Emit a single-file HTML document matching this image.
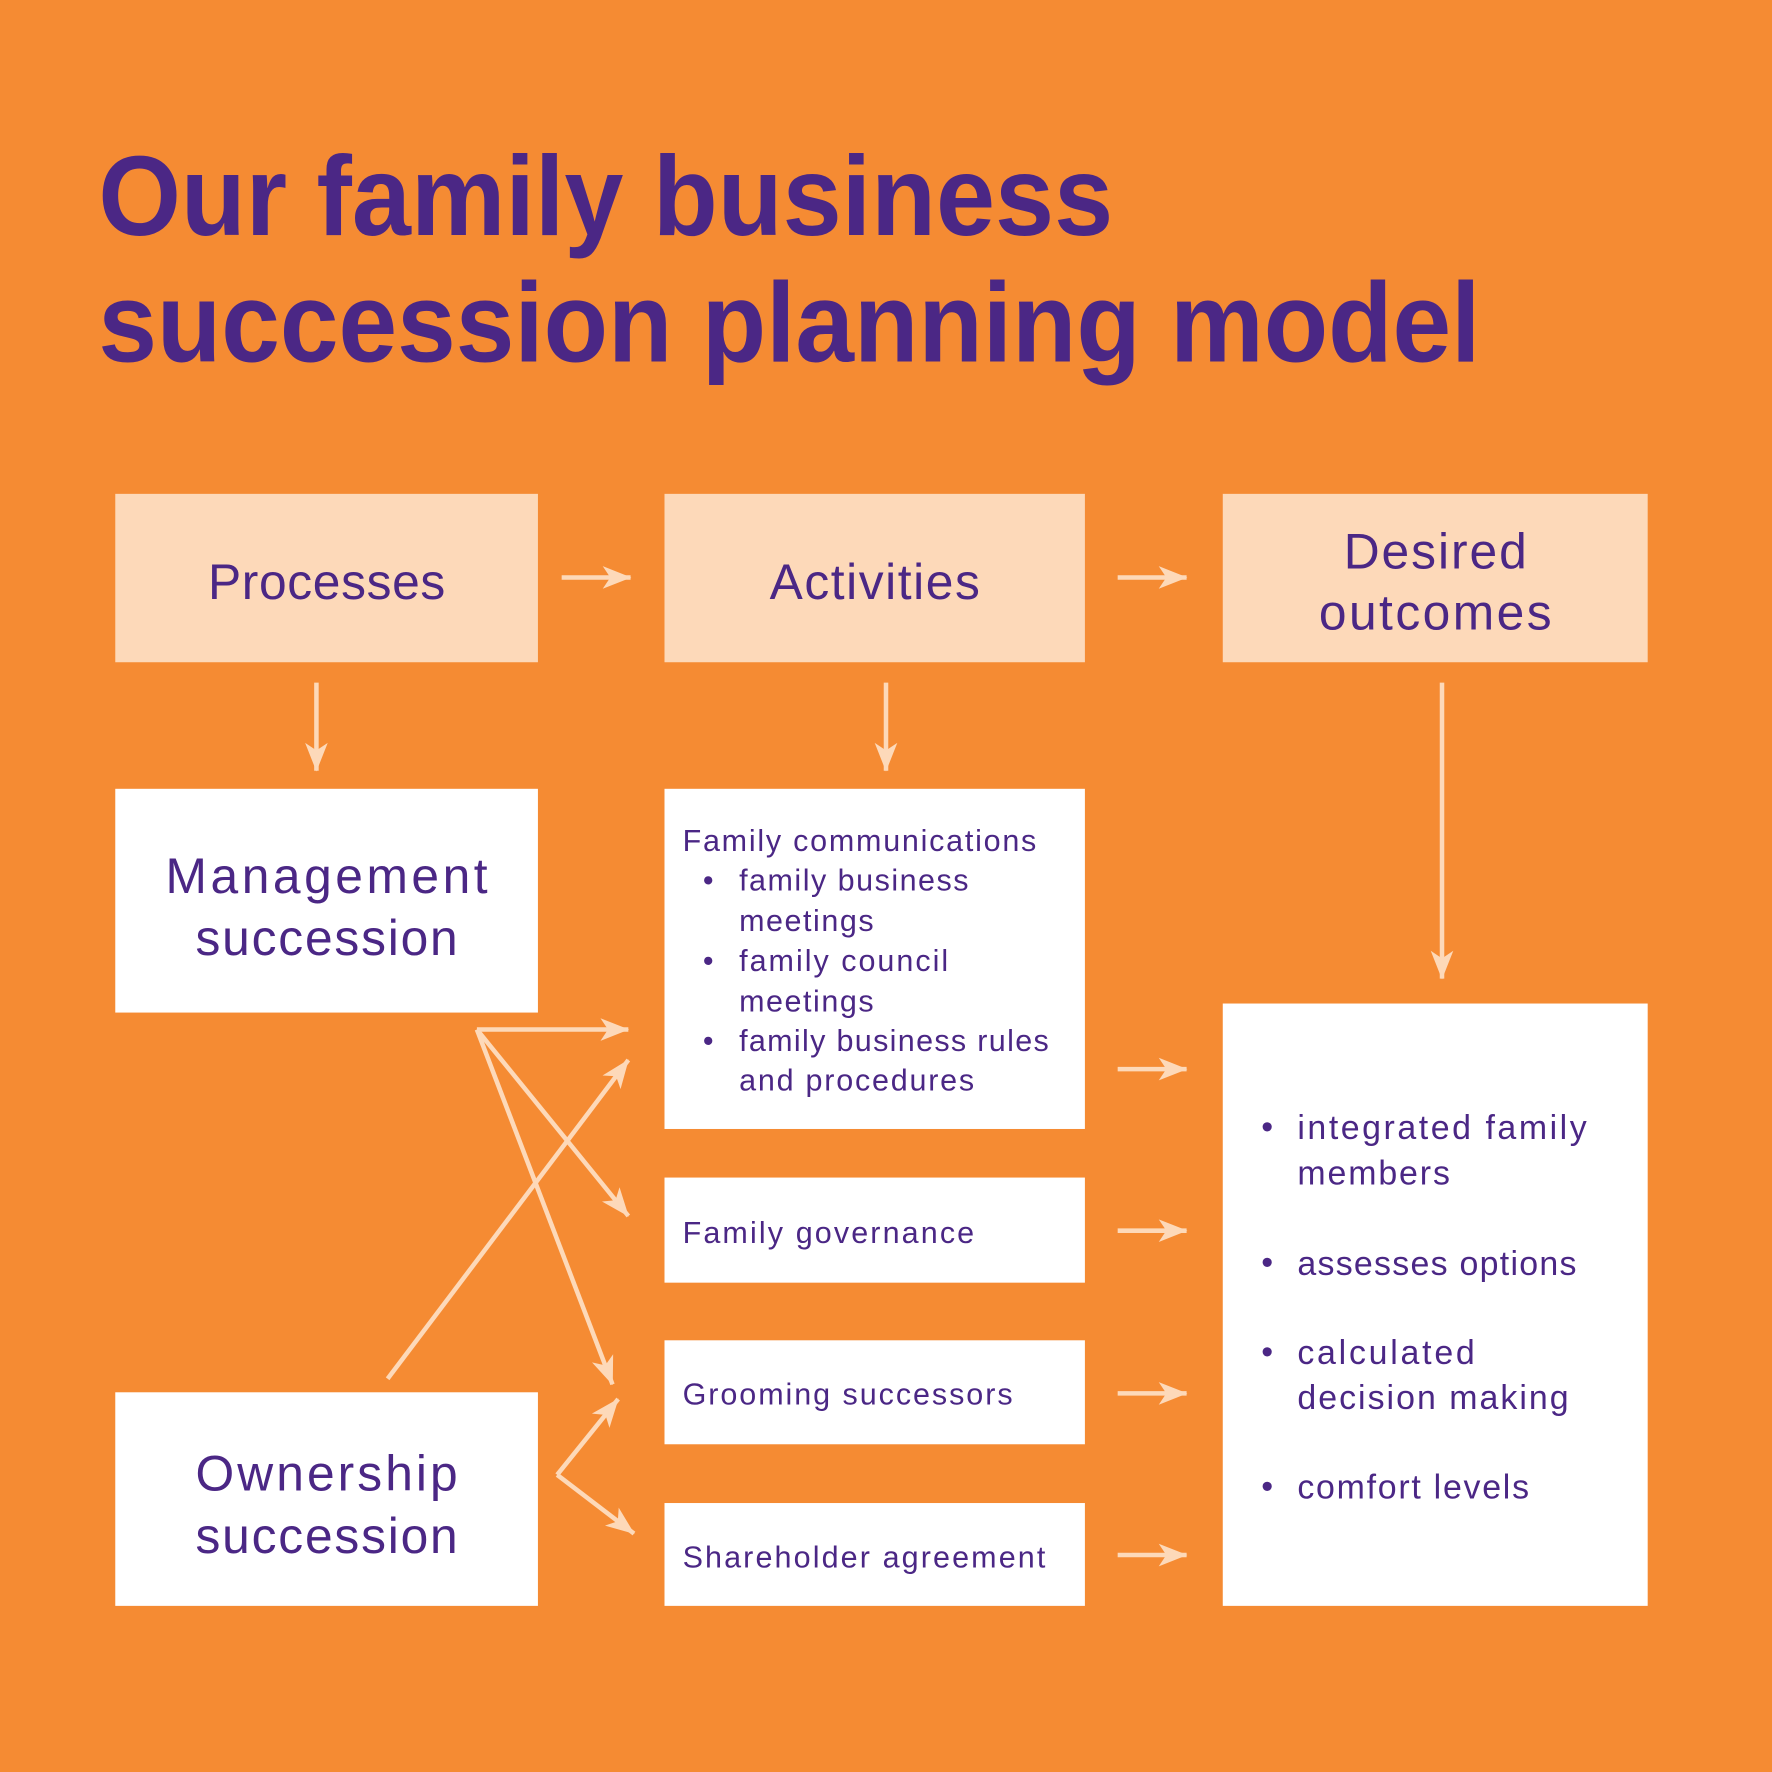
<!DOCTYPE html>
<html><head><meta charset="utf-8"><style>
html,body{margin:0;padding:0;background:#F58B33;}
svg{display:block}
text{font-family:"Liberation Sans",sans-serif;fill:#4B2785;}
</style></head><body>
<svg width="1772" height="1772" viewBox="0 0 1568 1568" xmlns="http://www.w3.org/2000/svg">
<defs>
<marker id="a" viewBox="0 0 12 10" refX="11" refY="5" markerWidth="8" markerHeight="8" markerUnits="userSpaceOnUse" orient="auto" style="overflow:visible">
<path d="M-26,-10 L12,5 L-26,20 L-16,5 z" fill="#FDD9B9"/>
</marker>
</defs>
<rect width="1568" height="1568" fill="#F58B33"/>
<text x="87" y="208" font-size="100" font-weight="bold" textLength="898" lengthAdjust="spacingAndGlyphs">Our family business</text>
<text x="87" y="320" font-size="100" font-weight="bold" textLength="1223" lengthAdjust="spacingAndGlyphs">succession planning model</text>

<g fill="#FDD9B9">
<rect x="102" y="437" width="374" height="149"/>
<rect x="588" y="437" width="372" height="149"/>
<rect x="1082" y="437" width="376" height="149"/>
</g>
<g fill="#fff">
<rect x="102" y="698" width="374" height="198"/>
<rect x="588" y="698" width="372" height="301"/>
<rect x="588" y="1042" width="372" height="93"/>
<rect x="588" y="1186" width="372" height="92"/>
<rect x="588" y="1330" width="372" height="91"/>
<rect x="1082" y="888" width="376" height="533"/>
<rect x="102" y="1232" width="374" height="189"/>
</g>

<g font-size="44" text-anchor="middle" lengthAdjust="spacingAndGlyphs">
<text x="289" y="530" textLength="210">Processes</text>
<text x="774" y="530" textLength="186">Activities</text>
<text x="1270" y="503" textLength="162">Desired</text>
<text x="1270" y="557" textLength="206">outcomes</text>
<text x="289" y="790" textLength="285">Management</text>
<text x="289" y="845" textLength="232">succession</text>
<text x="289" y="1319" textLength="232">Ownership</text>
<text x="289" y="1374" textLength="232">succession</text>
</g>
<g font-size="27">
<text x="604" y="753" textLength="313">Family communications</text>
<text x="622" y="788">•</text><text x="654" y="788" textLength="203">family business</text>
<text x="654" y="824" textLength="119">meetings</text>
<text x="622" y="859">•</text><text x="654" y="859" textLength="185">family council</text>
<text x="654" y="895" textLength="119">meetings</text>
<text x="622" y="930">•</text><text x="654" y="930" textLength="274">family business rules</text>
<text x="654" y="965" textLength="208">and procedures</text>
<text x="604" y="1100" textLength="258">Family governance</text>
<text x="604" y="1243" textLength="292">Grooming successors</text>
<text x="604" y="1387" textLength="321">Shareholder agreement</text>
</g>
<g font-size="30">
<text x="1116" y="1007">•</text><text x="1148" y="1008" textLength="256">integrated family</text>
<text x="1148" y="1048" textLength="135">members</text>
<text x="1116" y="1127">•</text><text x="1148" y="1128" textLength="247">assesses options</text>
<text x="1116" y="1206">•</text><text x="1148" y="1207" textLength="157">calculated</text>
<text x="1148" y="1247" textLength="240">decision making</text>
<text x="1116" y="1325">•</text><text x="1148" y="1326" textLength="205">comfort levels</text>
</g>

<g stroke="#FDD9B9" stroke-width="4" fill="none" marker-end="url(#a)">
<line x1="497" y1="511" x2="558" y2="511"/>
<line x1="989" y1="511" x2="1050" y2="511"/>
<line x1="280" y1="604" x2="280" y2="682"/>
<line x1="784" y1="604" x2="784" y2="682"/>
<line x1="1276" y1="604" x2="1276" y2="866"/>
<line x1="989" y1="946" x2="1050" y2="946"/>
<line x1="989" y1="1089" x2="1050" y2="1089"/>
<line x1="989" y1="1233" x2="1050" y2="1233"/>
<line x1="989" y1="1376" x2="1050" y2="1376"/>
<line x1="422" y1="911" x2="556" y2="911"/>
<line x1="422" y1="911" x2="556" y2="1076"/>
<line x1="422" y1="911" x2="542" y2="1225"/>
<line x1="343" y1="1220" x2="556" y2="938"/>
<polyline points="493,1305 547,1238" />
<line x1="493" y1="1305" x2="561" y2="1357"/>
</g>
</svg>
</body></html>
